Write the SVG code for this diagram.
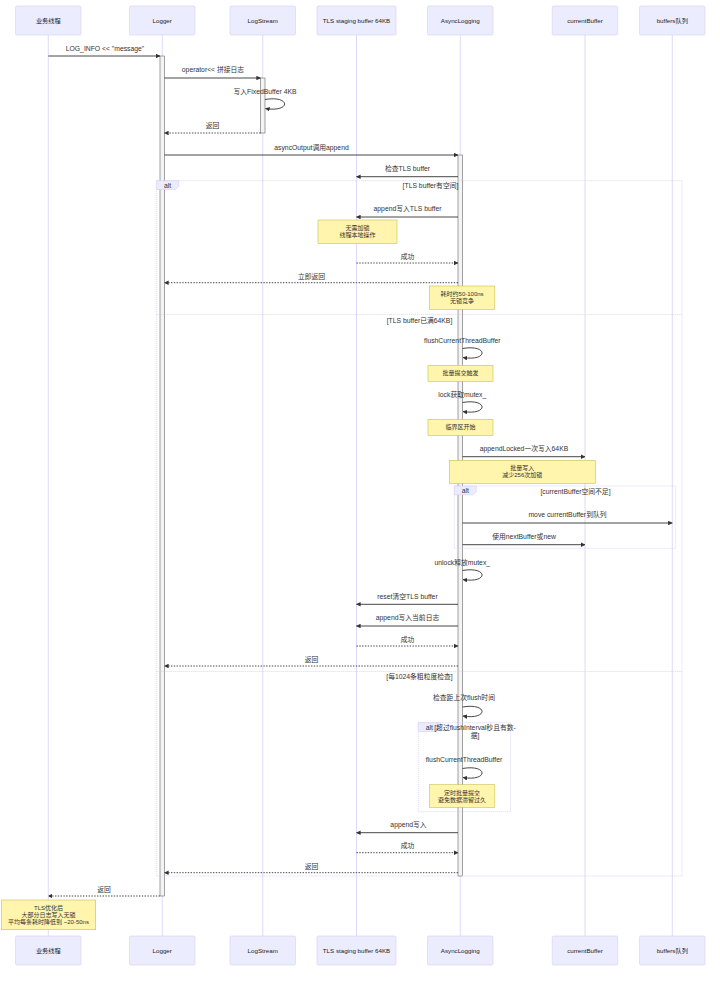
<svg xmlns="http://www.w3.org/2000/svg" width="720" height="985" viewBox="0 0 720 985">
<defs>
<marker id="ah" viewBox="0 0 10 10" refX="9" refY="5" markerWidth="4.6" markerHeight="4.6" markerUnits="userSpaceOnUse" orient="auto">
<path d="M0,0 L10,5 L0,10 z" fill="#333"/>
</marker>
<style>
text{font-family:"Liberation Sans","Noto Sans CJK SC",sans-serif;}
.actor{fill:#ECECFF;stroke:#D8CFF5;stroke-width:0.6;}
.atext{font-size:6.2px;fill:#222;text-anchor:middle;dominant-baseline:central;}
.life{stroke:#D8CEF6;stroke-width:0.8;fill:none;}
.act{fill:#f4f4f4;stroke:#666;stroke-width:0.6;}
.msg{stroke:#333;stroke-width:0.9;fill:none;marker-end:url(#ah);}
.dot{stroke-dasharray:1.4,1.4;}
.lbl{font-size:6.8px;fill:#333;text-anchor:middle;dominant-baseline:central;}
.note{fill:#fff5ad;stroke:#c8c050;stroke-width:0.6;}
.ntext{font-size:6px;fill:#333;text-anchor:middle;dominant-baseline:central;}
.frame{fill:none;stroke:#D6CCF3;stroke-width:0.8;stroke-dasharray:1,1;}
.tab{fill:#ECECFF;stroke:#D6CCF3;stroke-width:0.6;}
.ftext{font-size:6.8px;fill:#333;text-anchor:middle;dominant-baseline:central;}
</style>
</defs>
<rect width="720" height="985" fill="#ffffff"/>

<!-- actors -->
<g id="actor-biz">
<line class="life" x1="48.25" y1="35" x2="48.25" y2="936"/>
<rect class="actor" x="15.5" y="6" width="65.5" height="29" rx="1.3"/>
<text class="atext" x="48.25" y="20.5">业务线程</text>
<rect class="actor" x="15.5" y="936" width="65.5" height="29" rx="1.3"/>
<text class="atext" x="48.25" y="950.5">业务线程</text>
</g>
<g id="actor-logger">
<line class="life" x1="162.25" y1="35" x2="162.25" y2="936"/>
<rect class="actor" x="129.5" y="6" width="65.5" height="29" rx="1.3"/>
<text class="atext" x="162.25" y="20.5">Logger</text>
<rect class="actor" x="129.5" y="936" width="65.5" height="29" rx="1.3"/>
<text class="atext" x="162.25" y="950.5">Logger</text>
</g>
<g id="actor-logstream">
<line class="life" x1="262.75" y1="35" x2="262.75" y2="936"/>
<rect class="actor" x="230" y="6" width="65.5" height="29" rx="1.3"/>
<text class="atext" x="262.75" y="20.5">LogStream</text>
<rect class="actor" x="230" y="936" width="65.5" height="29" rx="1.3"/>
<text class="atext" x="262.75" y="950.5">LogStream</text>
</g>
<g id="actor-tls">
<line class="life" x1="356.5" y1="35" x2="356.5" y2="936"/>
<rect class="actor" x="317" y="6" width="79" height="29" rx="1.3"/>
<text class="atext" x="356.5" y="20.5">TLS staging buffer 64KB</text>
<rect class="actor" x="317" y="936" width="79" height="29" rx="1.3"/>
<text class="atext" x="356.5" y="950.5">TLS staging buffer 64KB</text>
</g>
<g id="actor-async">
<line class="life" x1="460.25" y1="35" x2="460.25" y2="936"/>
<rect class="actor" x="427.5" y="6" width="65.5" height="29" rx="1.3"/>
<text class="atext" x="460.25" y="20.5">AsyncLogging</text>
<rect class="actor" x="427.5" y="936" width="65.5" height="29" rx="1.3"/>
<text class="atext" x="460.25" y="950.5">AsyncLogging</text>
</g>
<g id="actor-current">
<line class="life" x1="585" y1="35" x2="585" y2="936"/>
<rect class="actor" x="552.25" y="6" width="65.5" height="29" rx="1.3"/>
<text class="atext" x="585" y="20.5">currentBuffer</text>
<rect class="actor" x="552.25" y="936" width="65.5" height="29" rx="1.3"/>
<text class="atext" x="585" y="950.5">currentBuffer</text>
</g>
<g id="actor-buffers">
<line class="life" x1="672.25" y1="35" x2="672.25" y2="936"/>
<rect class="actor" x="639.5" y="6" width="65.5" height="29" rx="1.3"/>
<text class="atext" x="672.25" y="20.5">buffers队列</text>
<rect class="actor" x="639.5" y="936" width="65.5" height="29" rx="1.3"/>
<text class="atext" x="672.25" y="950.5">buffers队列</text>
</g>

<!-- activations -->
<g id="activations">
<rect class="act" x="160" y="56" width="4.5" height="840"/>
<rect class="act" x="260.5" y="78" width="4.5" height="55"/>
<rect class="act" x="458" y="155" width="4.5" height="721"/>
</g>

<!-- alt frames -->
<g id="frame-outer">
<rect class="frame" x="156.7" y="180.7" width="525.3" height="695.3"/>
<path class="tab" d="M156.7,180.7 L178.7,180.7 L178.7,186.4 L175,189.5 L156.7,189.5 Z"/>
<text class="ftext" x="167.5" y="185.2">alt</text>
<text class="ftext" x="430.5" y="185.5">[TLS buffer有空间]</text>
<line class="frame" x1="156.7" y1="314.5" x2="682" y2="314.5"/>
<text class="ftext" x="419.5" y="320">[TLS buffer已满64KB]</text>
<line class="frame" x1="156.7" y1="671.5" x2="682" y2="671.5"/>
<text class="ftext" x="419.5" y="676.7">[每1024条粗粒度检查]</text>
</g>
<g id="frame-current">
<rect class="frame" x="454.3" y="486" width="221.4" height="62.3"/>
<path class="tab" d="M454.3,486 L476.3,486 L476.3,491.7 L472.6,494.8 L454.3,494.8 Z"/>
<text class="ftext" x="465.3" y="490.5">alt</text>
<text class="ftext" x="575.5" y="491.5">[currentBuffer空间不足]</text>
</g>
<g id="frame-flush">
<rect class="frame" x="418.3" y="722.7" width="92.2" height="89"/>
<path class="tab" d="M418.3,722.7 L440.3,722.7 L440.3,728.4 L436.6,731.5 L418.3,731.5 Z"/>
<text class="ftext" x="429.3" y="727.2">alt</text>
<text class="ftext" x="475" y="727.3">[超过flushInterval秒且有数-</text>
<text class="ftext" x="475" y="735.7">据]</text>
</g>

<!-- notes -->
<g id="note-nolock">
<rect class="note" x="318" y="220" width="79" height="23.3"/>
<text class="ntext" x="357.5" y="228">无需加锁</text>
<text class="ntext" x="357.5" y="235">线程本地操作</text>
</g>
<g id="note-latency">
<rect class="note" x="429.4" y="286" width="65.4" height="23.3"/>
<text class="ntext" x="462.1" y="294">耗时约50-100ns</text>
<text class="ntext" x="462.1" y="301.3">无锁竞争</text>
</g>
<g id="note-batch-trigger">
<rect class="note" x="428" y="365.3" width="65" height="16"/>
<text class="ntext" x="460.5" y="373.3">批量提交触发</text>
</g>
<g id="note-critical">
<rect class="note" x="428" y="419.3" width="65" height="16"/>
<text class="ntext" x="460.5" y="427.3">临界区开始</text>
</g>
<g id="note-batch-write">
<rect class="note" x="449.3" y="460.3" width="146" height="23"/>
<text class="ntext" x="522.3" y="468">批量写入</text>
<text class="ntext" x="522.3" y="475.3">减少256次加锁</text>
</g>
<g id="note-timed">
<rect class="note" x="429.4" y="784.7" width="65.4" height="22.6"/>
<text class="ntext" x="462.1" y="792.7">定时批量提交</text>
<text class="ntext" x="462.1" y="799.7">避免数据滞留过久</text>
</g>
<g id="note-summary">
<rect class="note" x="1.3" y="900" width="94.4" height="29.7"/>
<text class="ntext" x="48.5" y="907.7">TLS优化后</text>
<text class="ntext" x="48.5" y="914.8">大部分日志写入无锁</text>
<text class="ntext" x="48.5" y="921.9">平均每条耗时降低到 ~20-50ns</text>
</g>

<!-- connectors -->
<g id="connectors">
<line class="msg" x1="48.25" y1="56" x2="160" y2="56"/>
<text class="lbl" x="105" y="48">LOG_INFO &lt;&lt; "message"</text>

<line class="msg" x1="164.5" y1="78" x2="260.5" y2="78"/>
<text class="lbl" x="213" y="69.7">operator&lt;&lt; 拼接日志</text>

<path class="msg" d="M265,99.5 C291,95.1 291,112.7 265.5,108.5"/>
<text class="lbl" x="265" y="91.7">写入FixedBuffer 4KB</text>

<line class="msg dot" x1="260.5" y1="133" x2="164.5" y2="133"/>
<text class="lbl" x="212.5" y="125">返回</text>

<line class="msg" x1="164.5" y1="155" x2="458" y2="155"/>
<text class="lbl" x="311.5" y="147">asyncOutput调用append</text>

<line class="msg" x1="458" y1="176.7" x2="356.5" y2="176.7"/>
<text class="lbl" x="407.5" y="168">检查TLS buffer</text>

<line class="msg" x1="458" y1="217" x2="356.5" y2="217"/>
<text class="lbl" x="407.5" y="208">append写入TLS buffer</text>

<line class="msg dot" x1="356.5" y1="263" x2="458" y2="263"/>
<text class="lbl" x="407.5" y="256">成功</text>

<line class="msg dot" x1="458" y1="282.7" x2="164.5" y2="282.7"/>
<text class="lbl" x="311.5" y="276">立即返回</text>

<path class="msg" d="M462.5,348.5 C488.5,344.1 488.5,361.7 463,357.5"/>
<text class="lbl" x="462.3" y="340">flushCurrentThreadBuffer</text>

<path class="msg" d="M462.5,402.5 C488.5,398.1 488.5,415.7 463,411.5"/>
<text class="lbl" x="462.3" y="394.3">lock获取mutex_</text>

<line class="msg" x1="462.5" y1="456.7" x2="585" y2="456.7"/>
<text class="lbl" x="524" y="448.3">appendLocked一次写入64KB</text>

<line class="msg" x1="462.5" y1="523" x2="672.25" y2="523"/>
<text class="lbl" x="567.5" y="514.3">move currentBuffer到队列</text>

<line class="msg" x1="462.5" y1="544.7" x2="585" y2="544.7"/>
<text class="lbl" x="524" y="536">使用nextBuffer或new</text>

<path class="msg" d="M462.5,570.5 C488.5,566.1 488.5,583.7 463,579.5"/>
<text class="lbl" x="462.3" y="562">unlock释放mutex_</text>

<line class="msg" x1="458" y1="604.3" x2="356.5" y2="604.3"/>
<text class="lbl" x="407.5" y="596">reset清空TLS buffer</text>

<line class="msg" x1="458" y1="626" x2="356.5" y2="626"/>
<text class="lbl" x="407.5" y="617">append写入当前日志</text>

<line class="msg dot" x1="356.5" y1="646" x2="458" y2="646"/>
<text class="lbl" x="407.5" y="639">成功</text>

<line class="msg dot" x1="458" y1="666" x2="164.5" y2="666"/>
<text class="lbl" x="311.5" y="659.3">返回</text>

<path class="msg" d="M462.5,707 C488.5,702.6 488.5,720.2 463,716"/>
<text class="lbl" x="464" y="697.7">检查距上次flush时间</text>

<path class="msg" d="M462.5,768.5 C488.5,764.1 488.5,781.7 463,777.5"/>
<text class="lbl" x="464" y="759.3">flushCurrentThreadBuffer</text>

<line class="msg" x1="458" y1="832.7" x2="356.5" y2="832.7"/>
<text class="lbl" x="408.5" y="824.3">append写入</text>

<line class="msg dot" x1="356.5" y1="852.7" x2="458" y2="852.7"/>
<text class="lbl" x="407.5" y="845.7">成功</text>

<line class="msg dot" x1="458" y1="872.7" x2="164.5" y2="872.7"/>
<text class="lbl" x="311.5" y="866">返回</text>

<line class="msg dot" x1="160" y1="896" x2="48.25" y2="896"/>
<text class="lbl" x="104" y="889">返回</text>
</g>
</svg>
